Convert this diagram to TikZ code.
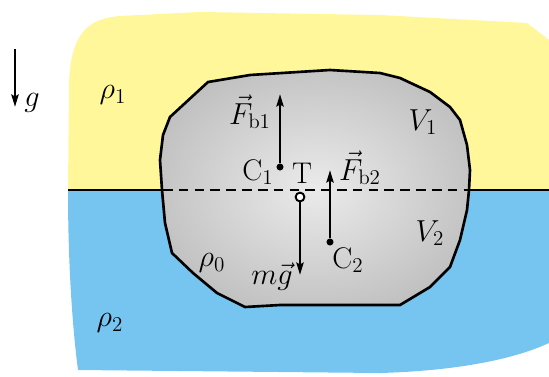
\documentclass[tikz,border=0pt]{standalone}
\usepackage{tikz}
\usetikzlibrary{positioning, arrows.meta}

\definecolor{airyellow}{RGB}{255,247,153}
\definecolor{waterblue}{RGB}{117,197,240}
\pgfdeclareradialshading{bodyshade}{\pgfpoint{0bp}{0bp}}{color(0bp)=(black!8); color(50bp)=(black!38); color(72bp)=(black!42)}

\begin{document}
\begin{tikzpicture}[
    every node/.style={font=\fontsize{17}{20}\selectfont, inner sep=1pt},
    force/.style={draw, line width=1.5pt, -{Stealth[length=7pt, width=4pt, inset=1pt]}},
    dot/.style={circle, fill=black, inner sep=0pt, minimum size=4pt},
    cog/.style={circle, draw, fill=white, line width=1.1pt, inner sep=0pt, minimum size=5pt},
    blob/.style={draw, line width=1.5pt, line join=round, shade, shading=bodyshade},
    surface/.style={draw, line width=0.6pt},
    cut/.style={draw, line width=1pt, dash pattern=on 5.5pt off 3.5pt}]

  \useasboundingbox (0,0) rectangle (10.98,7.52);
  \def\yWater{3.72}

  \fill[airyellow] (1.36,\yWater) -- (1.38,5.8) .. controls (1.40,6.9) and (1.8,7.15) .. (2.4,7.2)
    -- (4.0,7.28) -- (7.6,7.22) -- (10.54,7.06) -- (10.98,6.72) -- (10.98,\yWater) -- cycle;
  \fill[waterblue] (1.36,\yWater) -- (10.98,\yWater) -- (10.98,0.66) .. controls (10.2,0.3) and (9.0,0.1) .. (7.6,0.06)
    -- (1.56,0.12) .. controls (1.42,1.2) and (1.36,2.5) .. cycle;
  \draw[surface] (1.36,\yWater) -- (10.98,\yWater);

  \path[blob] (4.16,5.88) -- (5.00,6.02) -- (6.60,6.12) -- (7.60,6.06) -- (8.00,5.96) -- (8.60,5.68)
    -- (9.00,5.38) -- (9.20,5.12) -- (9.34,4.62) -- (9.40,4.12) -- (9.38,3.72) -- (9.34,3.32)
    -- (9.20,2.72) -- (9.00,2.18) -- (8.60,1.78) -- (8.00,1.42) -- (5.60,1.42) -- (4.90,1.38)
    -- (4.34,1.66) -- (3.86,2.06) -- (3.44,2.46) -- (3.30,3.06) -- (3.24,3.72) -- (3.20,4.32)
    -- (3.26,4.82) -- (3.40,5.18) -- cycle;
  \draw[cut] (3.26,\yWater) -- (9.36,\yWater);

  \node[dot] (c1) at (5.60,4.18) {};
  \node[dot] (c2) at (6.60,2.68) {};
  \node[cog] (t)  at (6.00,3.58) {};
  \coordinate (fb1)  at (5.60,5.64);
  \coordinate (fb2)  at (6.60,4.12);
  \coordinate (wt)   at (6.00,2.02);
  \coordinate (gtop) at (0.30,6.54);
  \coordinate (gbot) at (0.30,5.38);

  \draw[force] (c1) -- (fb1);
  \draw[force] (c2) -- (fb2);
  \draw[force] (t) -- (wt);
  \draw[force] (gtop) -- (gbot);

  \node (fb1lab) at (5.00,5.28) {$\vec F_{\mathrm{b1}}$};
  \node (fb2lab) at (7.20,4.16) {$\vec F_{\mathrm{b2}}$};
  \node (c1lab)  at (5.16,4.08) {C$_1$};
  \node (tlab)   at (6.04,4.06) {T};
  \node (mglab)  at (5.44,1.98) {$m\vec g$};
  \node (c2lab)  at (6.96,2.32) {C$_2$};
  \node (v1lab)  at (8.46,5.08) {$V_1$};
  \node (v2lab)  at (8.60,2.86) {$V_2$};
  \node (rho1)   at (2.26,5.62) {$\rho_1$};
  \node (rho2)   at (2.20,1.06) {$\rho_2$};
  \node (rho0)   at (4.24,2.26) {$\rho_0$};
  \node (glab)   at (0.64,5.46) {$g$};
\end{tikzpicture}
\end{document}
